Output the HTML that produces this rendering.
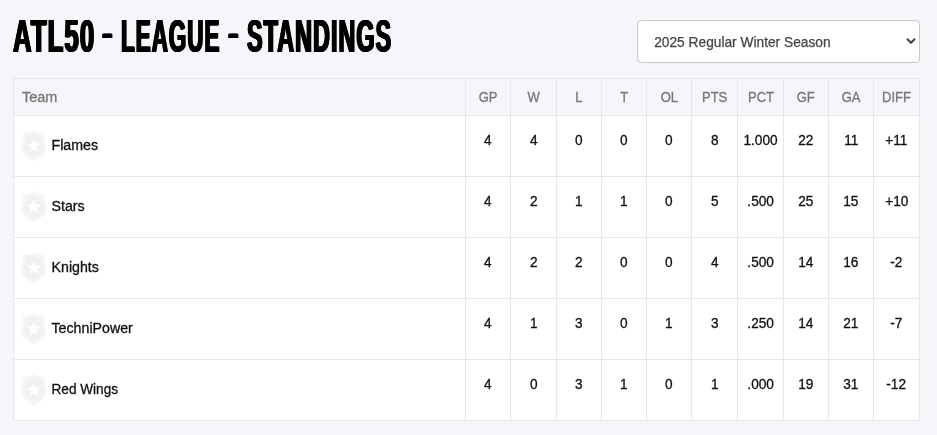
<!DOCTYPE html>
<html lang="en">
<head>
<meta charset="utf-8">
<title>ATL50 - League - Standings</title>
<style>
  * { box-sizing: border-box; }
  html, body { margin: 0; padding: 0; }
  body {
    width: 937px; height: 435px; overflow: hidden;
    background: #f5f5fa;
    font-family: "Liberation Sans", sans-serif;
    color: #111;
    position: relative;
  }
  h1 {
    position: absolute; left: 0; top: 10.85px; margin: 0; width: 500px; height: 52px;
    font-size: 45.4px; line-height: 52px; font-weight: 700;
    white-space: nowrap; letter-spacing: 2px;
    color: #000;
  }
  h1 span {
    position: absolute; top: 0; display: block;
    transform-origin: 0 50%;
    text-shadow: -1.5px 0 0 #000, -0.8px 0 0 #000, 0.8px 0 0 #000, 1.5px 0 0 #000;
  }
  h1 .d1, h1 .d2 { top: -3.5px; }
  h1 .w1 { left: 13.27px; transform: scaleX(0.5664); }
  h1 .d1 { left: 102.0px; transform: scale(0.7042, 0.78); }
  h1 .w2 { left: 120.58px; transform: scaleX(0.4945); }
  h1 .d2 { left: 227.8px; transform: scale(0.7042, 0.78); }
  h1 .w3 { left: 246.70px; transform: scaleX(0.5150); }
  .select {
    position: absolute; left: 637px; top: 20px; width: 283px; height: 43px;
    border: 1px solid #c8c8c8; border-radius: 4px; background: #fff;
    font-size: 14px; line-height: 43px; padding-left: 16px; color: #444;
    white-space: nowrap;
  }
  .select select {
    -webkit-appearance: none; appearance: none; display: block; position: absolute; left: 16px; top: 1px;
    width: 250px; height: 41px; margin: 0; padding: 0; border: 0; outline: 0; background: transparent;
    font: 14px/41px "Liberation Sans", sans-serif; color: #444;
    transform-origin: 0 50%; transform: translateX(0.2px) scaleX(0.981); -webkit-text-stroke: 0.25px #444;
  }
  .select svg { position: absolute; right: 2px; top: 15px; }
  table {
    position: absolute; left: 13px; top: 78px; width: 907px;
    border-collapse: separate; border-spacing: 0; table-layout: fixed;
    font-size: 14.5px;
  }
  th, td {
    border: 0 solid #e5e7ec; border-left-width: 1px; border-top-width: 1px;
    padding: 0; text-align: center; font-weight: 400; white-space: nowrap;
  }
  th:last-child, td:last-child { border-right-width: 1px; }
  tbody tr:last-child td { border-bottom-width: 1px; height: 62px; }
  th { height: 37px; color: #777; background: #f5f6fa; line-height: 20px; font-size: 14px; }
  th span { display: inline-block; transform: scaleX(0.93); -webkit-text-stroke: 0.3px #777; }
  td { height: 61px; background: #fff; color: #111; vertical-align: top; padding-top: 14px; line-height: 20px; font-size: 14px; }
  td span { display: inline-block; position: relative; left: 0.1px; transform: scaleX(0.975); -webkit-text-stroke: 0.3px #111; }
  th.team { text-align: left; padding-left: 8px; }
  th.team span { transform-origin: 0 50%; transform: scaleX(1.035); }
  td.team { text-align: left; padding: 0; position: relative; }
  td.team .logo { position: absolute; left: 5px; top: 14px; }
  td.team span { position: absolute; left: 38px; top: 19px; transform-origin: 0 50%; transform: translateX(-0.5px) scaleX(1.015); }
  td.team span.rw { transform: translateX(-0.5px) scaleX(0.972); }
</style>
</head>
<body>
<h1><span class="w1">ATL50</span> <span class="d1">-</span> <span class="w2">LEAGUE</span> <span class="d2">-</span> <span class="w3">STANDINGS</span></h1>
<div class="select"><select aria-label="Season"><option selected>2025 Regular Winter Season</option></select>
  <svg width="12" height="10" viewBox="0 0 12 10" aria-hidden="true"><path d="M2.5 3.3 L6 6.8 L9.5 3.3" fill="none" stroke="#444" stroke-width="2.1" stroke-linecap="round" stroke-linejoin="round"/></svg>
</div>
<table>
  <colgroup><col style="width:452px"><col style="width:45px"><col style="width:46px"><col style="width:45px"><col style="width:45px"><col style="width:45px"><col style="width:46px"><col style="width:46px"><col style="width:45px"><col style="width:45px"><col style="width:47px"></colgroup>
  <thead>
    <tr><th class="team"><span>Team</span></th><th><span>GP</span></th><th><span>W</span></th><th><span>L</span></th><th><span>T</span></th><th><span>OL</span></th><th><span>PTS</span></th><th><span>PCT</span></th><th><span>GF</span></th><th><span>GA</span></th><th><span>DIFF</span></th></tr>
  </thead>
  <tbody>
    <tr><td class="team"><svg class="logo" width="30" height="32" viewBox="0 0 30 32" aria-hidden="true"><path d="M14.8 1.2 C13.5 2.4 12 3 10.5 3 C8.5 3 6.3 3.5 4.7 4.1 C5.4 6.3 5.4 9 4.5 11.5 C3.1 14.5 2.6 16.5 2.8 18.5 C3.2 22.8 6.4 25.6 14.8 30.3 C23.2 25.6 26.4 22.8 26.8 18.5 C27 16.5 26.5 14.5 25.1 11.5 C24.2 9 24.2 6.3 24.9 4.1 C23.3 3.5 21.1 3 19.1 3 C17.6 3 16.1 2.4 14.8 1.2 Z" fill="#f4f4f4" stroke="#f5f5f5" stroke-width="1.6" stroke-linejoin="round"/><path transform="translate(14.8 15.9) scale(0.87) translate(-14.8 -15.9)" d="M14.8 1.2 C13.5 2.4 12 3 10.5 3 C8.5 3 6.3 3.5 4.7 4.1 C5.4 6.3 5.4 9 4.5 11.5 C3.1 14.5 2.6 16.5 2.8 18.5 C3.2 22.8 6.4 25.6 14.8 30.3 C23.2 25.6 26.4 22.8 26.8 18.5 C27 16.5 26.5 14.5 25.1 11.5 C24.2 9 24.2 6.3 24.9 4.1 C23.3 3.5 21.1 3 19.1 3 C17.6 3 16.1 2.4 14.8 1.2 Z" fill="#f1f1f1" stroke="#f8f8f8" stroke-width="0.9" stroke-linejoin="round"/><path transform="translate(14.9 15.7) scale(1.12) translate(-14.8 -15.6)" d="M14.8 9.3 L16.5 13.6 L21.1 13.9 L17.5 16.8 L18.7 21.3 L14.8 18.8 L10.9 21.3 L12.1 16.8 L8.5 13.9 L13.1 13.6 Z" fill="#ffffff"/></svg><span>Flames</span></td><td><span>4</span></td><td><span>4</span></td><td><span>0</span></td><td><span>0</span></td><td><span>0</span></td><td><span>8</span></td><td><span>1.000</span></td><td><span>22</span></td><td><span>11</span></td><td><span>+11</span></td></tr>
    <tr><td class="team"><svg class="logo" width="30" height="32" viewBox="0 0 30 32" aria-hidden="true"><path d="M14.8 1.2 C13.5 2.4 12 3 10.5 3 C8.5 3 6.3 3.5 4.7 4.1 C5.4 6.3 5.4 9 4.5 11.5 C3.1 14.5 2.6 16.5 2.8 18.5 C3.2 22.8 6.4 25.6 14.8 30.3 C23.2 25.6 26.4 22.8 26.8 18.5 C27 16.5 26.5 14.5 25.1 11.5 C24.2 9 24.2 6.3 24.9 4.1 C23.3 3.5 21.1 3 19.1 3 C17.6 3 16.1 2.4 14.8 1.2 Z" fill="#f4f4f4" stroke="#f5f5f5" stroke-width="1.6" stroke-linejoin="round"/><path transform="translate(14.8 15.9) scale(0.87) translate(-14.8 -15.9)" d="M14.8 1.2 C13.5 2.4 12 3 10.5 3 C8.5 3 6.3 3.5 4.7 4.1 C5.4 6.3 5.4 9 4.5 11.5 C3.1 14.5 2.6 16.5 2.8 18.5 C3.2 22.8 6.4 25.6 14.8 30.3 C23.2 25.6 26.4 22.8 26.8 18.5 C27 16.5 26.5 14.5 25.1 11.5 C24.2 9 24.2 6.3 24.9 4.1 C23.3 3.5 21.1 3 19.1 3 C17.6 3 16.1 2.4 14.8 1.2 Z" fill="#f1f1f1" stroke="#f8f8f8" stroke-width="0.9" stroke-linejoin="round"/><path transform="translate(14.9 15.7) scale(1.12) translate(-14.8 -15.6)" d="M14.8 9.3 L16.5 13.6 L21.1 13.9 L17.5 16.8 L18.7 21.3 L14.8 18.8 L10.9 21.3 L12.1 16.8 L8.5 13.9 L13.1 13.6 Z" fill="#ffffff"/></svg><span>Stars</span></td><td><span>4</span></td><td><span>2</span></td><td><span>1</span></td><td><span>1</span></td><td><span>0</span></td><td><span>5</span></td><td><span>.500</span></td><td><span>25</span></td><td><span>15</span></td><td><span>+10</span></td></tr>
    <tr><td class="team"><svg class="logo" width="30" height="32" viewBox="0 0 30 32" aria-hidden="true"><path d="M14.8 1.2 C13.5 2.4 12 3 10.5 3 C8.5 3 6.3 3.5 4.7 4.1 C5.4 6.3 5.4 9 4.5 11.5 C3.1 14.5 2.6 16.5 2.8 18.5 C3.2 22.8 6.4 25.6 14.8 30.3 C23.2 25.6 26.4 22.8 26.8 18.5 C27 16.5 26.5 14.5 25.1 11.5 C24.2 9 24.2 6.3 24.9 4.1 C23.3 3.5 21.1 3 19.1 3 C17.6 3 16.1 2.4 14.8 1.2 Z" fill="#f4f4f4" stroke="#f5f5f5" stroke-width="1.6" stroke-linejoin="round"/><path transform="translate(14.8 15.9) scale(0.87) translate(-14.8 -15.9)" d="M14.8 1.2 C13.5 2.4 12 3 10.5 3 C8.5 3 6.3 3.5 4.7 4.1 C5.4 6.3 5.4 9 4.5 11.5 C3.1 14.5 2.6 16.5 2.8 18.5 C3.2 22.8 6.4 25.6 14.8 30.3 C23.2 25.6 26.4 22.8 26.8 18.5 C27 16.5 26.5 14.5 25.1 11.5 C24.2 9 24.2 6.3 24.9 4.1 C23.3 3.5 21.1 3 19.1 3 C17.6 3 16.1 2.4 14.8 1.2 Z" fill="#f1f1f1" stroke="#f8f8f8" stroke-width="0.9" stroke-linejoin="round"/><path transform="translate(14.9 15.7) scale(1.12) translate(-14.8 -15.6)" d="M14.8 9.3 L16.5 13.6 L21.1 13.9 L17.5 16.8 L18.7 21.3 L14.8 18.8 L10.9 21.3 L12.1 16.8 L8.5 13.9 L13.1 13.6 Z" fill="#ffffff"/></svg><span>Knights</span></td><td><span>4</span></td><td><span>2</span></td><td><span>2</span></td><td><span>0</span></td><td><span>0</span></td><td><span>4</span></td><td><span>.500</span></td><td><span>14</span></td><td><span>16</span></td><td><span>-2</span></td></tr>
    <tr><td class="team"><svg class="logo" width="30" height="32" viewBox="0 0 30 32" aria-hidden="true"><path d="M14.8 1.2 C13.5 2.4 12 3 10.5 3 C8.5 3 6.3 3.5 4.7 4.1 C5.4 6.3 5.4 9 4.5 11.5 C3.1 14.5 2.6 16.5 2.8 18.5 C3.2 22.8 6.4 25.6 14.8 30.3 C23.2 25.6 26.4 22.8 26.8 18.5 C27 16.5 26.5 14.5 25.1 11.5 C24.2 9 24.2 6.3 24.9 4.1 C23.3 3.5 21.1 3 19.1 3 C17.6 3 16.1 2.4 14.8 1.2 Z" fill="#f4f4f4" stroke="#f5f5f5" stroke-width="1.6" stroke-linejoin="round"/><path transform="translate(14.8 15.9) scale(0.87) translate(-14.8 -15.9)" d="M14.8 1.2 C13.5 2.4 12 3 10.5 3 C8.5 3 6.3 3.5 4.7 4.1 C5.4 6.3 5.4 9 4.5 11.5 C3.1 14.5 2.6 16.5 2.8 18.5 C3.2 22.8 6.4 25.6 14.8 30.3 C23.2 25.6 26.4 22.8 26.8 18.5 C27 16.5 26.5 14.5 25.1 11.5 C24.2 9 24.2 6.3 24.9 4.1 C23.3 3.5 21.1 3 19.1 3 C17.6 3 16.1 2.4 14.8 1.2 Z" fill="#f1f1f1" stroke="#f8f8f8" stroke-width="0.9" stroke-linejoin="round"/><path transform="translate(14.9 15.7) scale(1.12) translate(-14.8 -15.6)" d="M14.8 9.3 L16.5 13.6 L21.1 13.9 L17.5 16.8 L18.7 21.3 L14.8 18.8 L10.9 21.3 L12.1 16.8 L8.5 13.9 L13.1 13.6 Z" fill="#ffffff"/></svg><span>TechniPower</span></td><td><span>4</span></td><td><span>1</span></td><td><span>3</span></td><td><span>0</span></td><td><span>1</span></td><td><span>3</span></td><td><span>.250</span></td><td><span>14</span></td><td><span>21</span></td><td><span>-7</span></td></tr>
    <tr><td class="team"><svg class="logo" width="30" height="32" viewBox="0 0 30 32" aria-hidden="true"><path d="M14.8 1.2 C13.5 2.4 12 3 10.5 3 C8.5 3 6.3 3.5 4.7 4.1 C5.4 6.3 5.4 9 4.5 11.5 C3.1 14.5 2.6 16.5 2.8 18.5 C3.2 22.8 6.4 25.6 14.8 30.3 C23.2 25.6 26.4 22.8 26.8 18.5 C27 16.5 26.5 14.5 25.1 11.5 C24.2 9 24.2 6.3 24.9 4.1 C23.3 3.5 21.1 3 19.1 3 C17.6 3 16.1 2.4 14.8 1.2 Z" fill="#f4f4f4" stroke="#f5f5f5" stroke-width="1.6" stroke-linejoin="round"/><path transform="translate(14.8 15.9) scale(0.87) translate(-14.8 -15.9)" d="M14.8 1.2 C13.5 2.4 12 3 10.5 3 C8.5 3 6.3 3.5 4.7 4.1 C5.4 6.3 5.4 9 4.5 11.5 C3.1 14.5 2.6 16.5 2.8 18.5 C3.2 22.8 6.4 25.6 14.8 30.3 C23.2 25.6 26.4 22.8 26.8 18.5 C27 16.5 26.5 14.5 25.1 11.5 C24.2 9 24.2 6.3 24.9 4.1 C23.3 3.5 21.1 3 19.1 3 C17.6 3 16.1 2.4 14.8 1.2 Z" fill="#f1f1f1" stroke="#f8f8f8" stroke-width="0.9" stroke-linejoin="round"/><path transform="translate(14.9 15.7) scale(1.12) translate(-14.8 -15.6)" d="M14.8 9.3 L16.5 13.6 L21.1 13.9 L17.5 16.8 L18.7 21.3 L14.8 18.8 L10.9 21.3 L12.1 16.8 L8.5 13.9 L13.1 13.6 Z" fill="#ffffff"/></svg><span class="rw">Red Wings</span></td><td><span>4</span></td><td><span>0</span></td><td><span>3</span></td><td><span>1</span></td><td><span>0</span></td><td><span>1</span></td><td><span>.000</span></td><td><span>19</span></td><td><span>31</span></td><td><span>-12</span></td></tr>
  </tbody>
</table>
</body>
</html>
